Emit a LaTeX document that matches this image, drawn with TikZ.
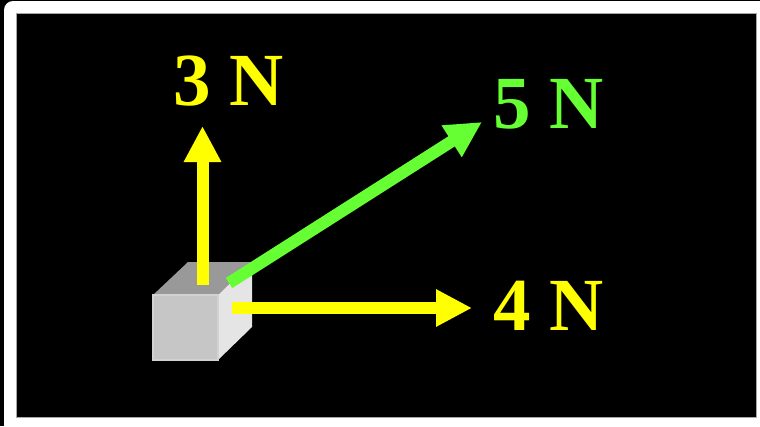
\documentclass[tikz,border=0pt]{standalone}
\usepackage{fontspec}
\setmainfont{Liberation Serif}
\usetikzlibrary{arrows.meta}
\definecolor{forcegreen}{HTML}{66FF33}
\definecolor{forceyellow}{HTML}{FFFF00}
\begin{document}
\begin{tikzpicture}[x=1pt,y=-1pt,
  force/.style={line width=12pt, -{Triangle[length=36pt,width=35pt]}},
  lab/.style={anchor=base west, inner sep=0pt, font=\fontsize{75}{75}\selectfont\bfseries}]
\useasboundingbox (0,0) rectangle (760,426);
% frame
\fill[black] (0,0) rectangle (760,426);
\fill[white, rounded corners=9pt] (4,1) rectangle (790,450);
\fill[black] (16,13) rectangle (756,417);
\draw[gray!70, line width=1pt] (16,13) rectangle (756,417);
% cube
\fill[gray!80!white] (153,295) -- (188,262) -- (252,262) -- (218,295) -- cycle;
\fill[gray!20!white] (218,295) -- (252,262) -- (252,327) -- (218,360) -- cycle;
\filldraw[fill=gray!45!white, draw=gray!35!white, line width=1.2pt] (153,295) rectangle (218,360);
\coordinate (cubetop) at (202.5,285);
\coordinate (cubecorner) at (229,283);
\coordinate (cuberight) at (232,308);
% labels
\node[lab, text=forceyellow] (lab3) at (173,105) {3 N};
\node[lab, text=forcegreen] (lab5) at (493,128) {5 N};
\node[lab, text=forceyellow] (lab4) at (493,330) {4 N};
\coordinate (tip3) at (202.5,126);
\coordinate (tip5) at (482,122);
\coordinate (tip4) at (472,308);
% forces
\draw[force, forceyellow] (cubetop) -- (tip3);
\draw[force, forcegreen] (cubecorner) -- (tip5);
\draw[force, forceyellow] (cuberight) -- (tip4);
\end{tikzpicture}
\end{document}
